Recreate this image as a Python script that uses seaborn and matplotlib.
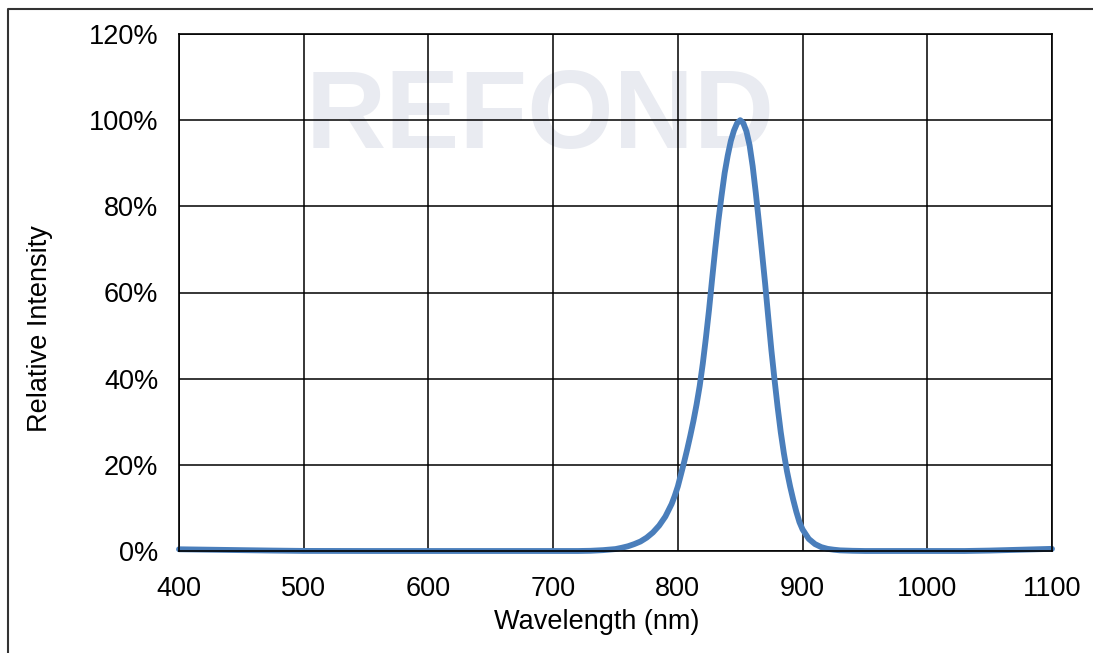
import matplotlib
matplotlib.use("Agg")
import matplotlib.pyplot as plt
from matplotlib.lines import Line2D
import seaborn as sns
import pandas as pd

# Data
wavelength_nm = [400, 425, 450, 475, 500, 550, 600, 650, 700, 720, 730, 740, 750, 755,
                 760, 765, 770, 775, 780, 785, 790, 795, 797.5, 800, 802.5, 805, 807.5,
                 810, 812.5, 815, 817.5, 820, 822.5, 825, 827.5, 830, 832.5, 835, 837.5,
                 840, 842.5, 845, 847.5, 850, 852.5, 855, 857.5, 860, 862.5, 865, 867.5,
                 870, 872.5, 875, 877.5, 880, 882.5, 885, 887.5, 890, 892.5, 895, 897.5,
                 900, 905, 910, 915, 920, 925, 930, 940, 950, 1000, 1030, 1050, 1075, 1100]
relative_intensity_pct = [0.4, 0.3, 0.2, 0.1, 0.02, 0.0, 0.0, 0.0, 0.0, 0.0, 0.05, 0.2, 0.45, 0.75,
                          1.1, 1.6, 2.2, 3.1, 4.3, 5.9, 8.0, 10.9, 12.8, 15.0, 17.8, 20.6, 23.6,
                          26.8, 30.2, 34.0, 38.3, 43.5, 49.5, 56.0, 63.2, 70.2, 76.7, 82.4, 87.7,
                          91.8, 95.2, 97.6, 99.3, 100.0, 99.3, 97.4, 94.2, 89.3, 83.1, 76.3, 69.2,
                          62.0, 54.2, 46.6, 39.8, 33.4, 27.6, 22.7, 18.5, 15.0, 11.9, 9.1, 6.7,
                          5.0, 2.8, 1.6, 0.9, 0.5, 0.3, 0.15, 0.05, 0.0, 0.0, 0.0, 0.1, 0.3, 0.5]
x_ticks = [400, 500, 600, 700, 800, 900, 1000, 1100]
y_ticks = [0, 20, 40, 60, 80, 100, 120]
x_label = "Wavelength (nm)"
y_label = "Relative Intensity"
watermark = "REFOND"

df = pd.DataFrame({"wavelength": wavelength_nm, "intensity": relative_intensity_pct})

sns.set_theme(style="white")
plt.rcParams["font.family"] = ["Liberation Sans", "DejaVu Sans"]

fig = plt.figure(figsize=(10.93, 6.53), dpi=100)
ax = fig.add_axes([179 / 1093, 1 - 551 / 653, (1052 - 179) / 1093, (551 - 34) / 653])
ax.set_facecolor("none")
fig.patch.set_facecolor("white")

# watermark behind everything
ax.text(0.4135, 0.7795, watermark, transform=ax.transAxes, ha="center", va="baseline",
        fontsize=80, fontweight="bold", color="#e9ebf1", zorder=0)

sns.lineplot(data=df, x="wavelength", y="intensity", ax=ax, color="#4a7ebb",
             linewidth=4.2, zorder=3, clip_on=False)
ax.lines[-1].set_solid_capstyle("round")
ax.lines[-1].set_solid_joinstyle("round")

ax.set_xlim(400, 1100)
ax.set_ylim(0, 120)
ax.set_xticks(x_ticks)
ax.set_yticks(y_ticks)
ax.set_xticklabels([str(t) for t in x_ticks])
ax.set_yticklabels([f"{t}%" for t in y_ticks])
ax.tick_params(axis="both", length=0, labelsize=19.5, colors="black")
ax.tick_params(axis="y", pad=15)
ax.tick_params(axis="x", pad=18)

ax.grid(True, color="black", linewidth=1.1, zorder=1)
ax.set_axisbelow(False)
for gl in ax.get_xgridlines() + ax.get_ygridlines():
    gl.set_zorder(1)
for sp in ax.spines.values():
    sp.set_visible(True)
    sp.set_color("black")
    sp.set_linewidth(1.2)
    sp.set_zorder(4)

ax.set_xlabel(x_label, fontsize=19.5, color="black")
ax.set_ylabel(y_label, fontsize=19.5, color="black")
ax.xaxis.set_label_coords(0.478, -0.113)
ax.xaxis.label.set_va("top")
ax.yaxis.set_label_coords(-0.159, 0.431)
ax.yaxis.label.set_va("center")
ax.yaxis.label.set_ha("center")

# outer frame (left and top edges visible)
x0 = 8 / 1093
y0 = 1 - 9 / 653
fig.add_artist(Line2D([x0, x0, 1.05], [-0.05, y0, y0], transform=fig.transFigure,
                      color="#333333", linewidth=1.5))

fig.savefig("out.png", dpi=100, facecolor="white")
